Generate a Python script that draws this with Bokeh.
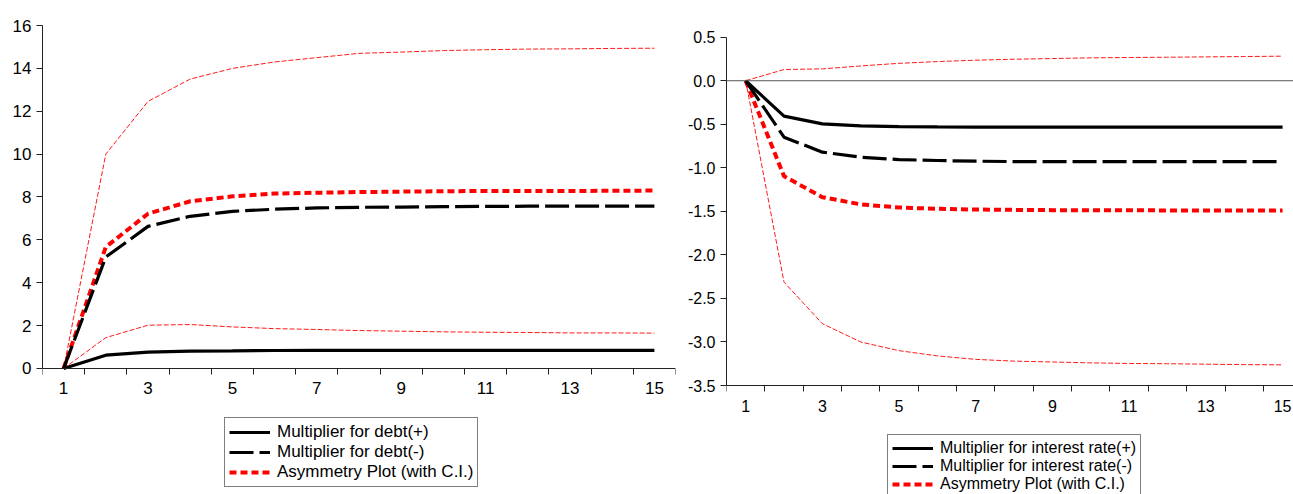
from bokeh.plotting import figure
from bokeh.models import FixedTicker, Legend, LegendItem, Span, Range1d
from bokeh.layouts import row
from bokeh.embed import file_html
from bokeh.resources import INLINE

periods = list(range(1, 16))

# Left panel: debt
debt_pos = [0, 0.62, 0.76, 0.81, 0.82, 0.84, 0.85, 0.85, 0.85, 0.85, 0.85, 0.85, 0.85, 0.85, 0.85]
debt_neg = [0, 5.2, 6.63, 7.1, 7.33, 7.43, 7.49, 7.52, 7.53, 7.55, 7.56, 7.57, 7.57, 7.57, 7.57]
debt_asym = [0, 5.67, 7.22, 7.8, 8.03, 8.16, 8.2, 8.23, 8.25, 8.27, 8.28, 8.28, 8.28, 8.29, 8.3]
debt_ci_up = [0, 10.0, 12.46, 13.5, 14.0, 14.3, 14.5, 14.7, 14.76, 14.83, 14.87, 14.9, 14.91, 14.93, 14.94]
debt_ci_lo = [0, 1.44, 2.02, 2.05, 1.94, 1.86, 1.82, 1.77, 1.74, 1.71, 1.69, 1.68, 1.66, 1.66, 1.65]

# Right panel: interest rate
ir_pos = [0, -0.407, -0.495, -0.518, -0.526, -0.53, -0.532, -0.533, -0.533, -0.533, -0.533, -0.533, -0.533, -0.533, -0.533]
ir_neg = [0, -0.648, -0.82, -0.878, -0.905, -0.916, -0.924, -0.928, -0.928, -0.928, -0.928, -0.928, -0.928, -0.928, -0.928]
ir_asym = [0, -1.096, -1.337, -1.42, -1.456, -1.471, -1.479, -1.483, -1.486, -1.487, -1.488, -1.489, -1.49, -1.49, -1.49]
ir_ci_up = [0, 0.129, 0.136, 0.17, 0.2, 0.22, 0.236, 0.247, 0.255, 0.263, 0.267, 0.27, 0.274, 0.278, 0.282]
ir_ci_lo = [0, -2.313, -2.79, -3.0, -3.1, -3.16, -3.2, -3.22, -3.23, -3.24, -3.247, -3.25, -3.255, -3.26, -3.263]

left_yticks = [0, 2, 4, 6, 8, 10, 12, 14, 16]
right_yticks = [0.5, 0.0, -0.5, -1.0, -1.5, -2.0, -2.5, -3.0, -3.5]
right_ylabels = {0.5: "0.5", 0.0: "0.0", -0.5: "-0.5", -1.0: "-1.0", -1.5: "-1.5",
                 -2.0: "-2.0", -2.5: "-2.5", -3.0: "-3.0", -3.5: "-3.5"}
xlabel_ticks = [1, 3, 5, 7, 9, 11, 13, 15]
xtick_marks = [i + 0.5 for i in range(0, 16)]

left_legend = ["Multiplier for debt(+)", "Multiplier for debt(-)", "Asymmetry Plot (with C.I.)"]
right_legend = ["Multiplier for interest rate(+)", "Multiplier for interest rate(-)", "Asymmetry Plot (with C.I.)"]

FONT = "Liberation Sans"


def make_panel(width, mb_left, mb_right, xend, yview, ybounds, yticks,
               pos, neg, asym, up, lo, labels, font_px, legend_loc, ylabel_over=None, zero=False):
    p = figure(width=width, height=494, output_backend="svg", toolbar_location=None,
               x_range=Range1d(0.5, xend), y_range=Range1d(*yview),
               min_border_left=mb_left, min_border_right=mb_right,
               min_border_top=25, min_border_bottom=0)
    p.outline_line_color = None
    p.xgrid.visible = False
    p.ygrid.visible = False
    p.background_fill_color = "white"
    p.border_fill_color = "white"

    if zero:
        p.add_layout(Span(location=0, dimension="width", line_color="#555555", line_width=1))

    p.line(periods, up, line_color="#ff1a1a", line_width=1, line_dash="5 2")
    p.line(periods, lo, line_color="#ff1a1a", line_width=1, line_dash="5 2")
    r_asym = p.line(periods, asym, line_color="#ff0000", line_width=4, line_dash="7 4")
    r_neg = p.line(periods, neg, line_color="black", line_width=3.2, line_dash="24 6")
    r_pos = p.line(periods, pos, line_color="black", line_width=3.2)

    fs = f"{font_px}px"
    xa = p.xaxis[0]
    xa.fixed_location = ybounds[0]
    xa.bounds = (0.5, 15.5)
    xa.ticker = FixedTicker(ticks=xlabel_ticks, minor_ticks=xtick_marks)
    xa.major_tick_out = 0
    xa.major_tick_in = 0
    xa.minor_tick_out = 6
    xa.minor_tick_in = 0
    xa.minor_tick_line_color = "#222222"
    xa.axis_line_color = "#222222"
    xa.major_label_text_font = FONT
    xa.major_label_text_font_size = fs
    xa.major_label_text_color = "black"
    xa.major_label_standoff = 8

    ya = p.yaxis[0]
    ya.bounds = ybounds
    ya.ticker = FixedTicker(ticks=yticks)
    ya.major_tick_out = 6
    ya.major_tick_in = 0
    ya.minor_tick_out = 0
    ya.minor_tick_in = 0
    ya.major_tick_line_color = "#222222"
    ya.axis_line_color = "#222222"
    ya.major_label_text_font = FONT
    ya.major_label_text_font_size = fs
    ya.major_label_text_color = "black"
    ya.major_label_standoff = 5
    if ylabel_over:
        ya.major_label_overrides = ylabel_over

    legend = Legend(items=[LegendItem(label=labels[0], renderers=[r_pos]),
                           LegendItem(label=labels[1], renderers=[r_neg]),
                           LegendItem(label=labels[2], renderers=[r_asym])],
                    location=legend_loc)
    legend.label_text_font = FONT
    legend.label_text_font_size = fs
    legend.label_text_color = "black"
    legend.glyph_width = 41
    legend.glyph_height = 16
    legend.label_height = 16
    legend.label_standoff = 7
    legend.spacing = 0
    legend.padding = 4
    legend.margin = 0
    legend.border_line_color = "black"
    legend.border_line_width = 1
    legend.background_fill_color = "white"
    legend.background_fill_alpha = 1
    p.add_layout(legend, "center")
    return p


left = make_panel(680, 42, 5, 15.5, (-5.8776, 16), (0, 16), left_yticks,
                  debt_pos, debt_neg, debt_asym, debt_ci_up, debt_ci_lo,
                  left_legend, 17, (182, 7))
right = make_panel(613, 46, 0, 15.285, (-4.7517, 0.6344), (-3.5, 0.5), right_yticks,
                   ir_pos, ir_neg, ir_asym, ir_ci_up, ir_ci_lo,
                   right_legend, 16, (161, -4), ylabel_over=right_ylabels, zero=True)

layout = row(left, right, spacing=0)
open("out.html", "w").write(file_html(layout, INLINE))
